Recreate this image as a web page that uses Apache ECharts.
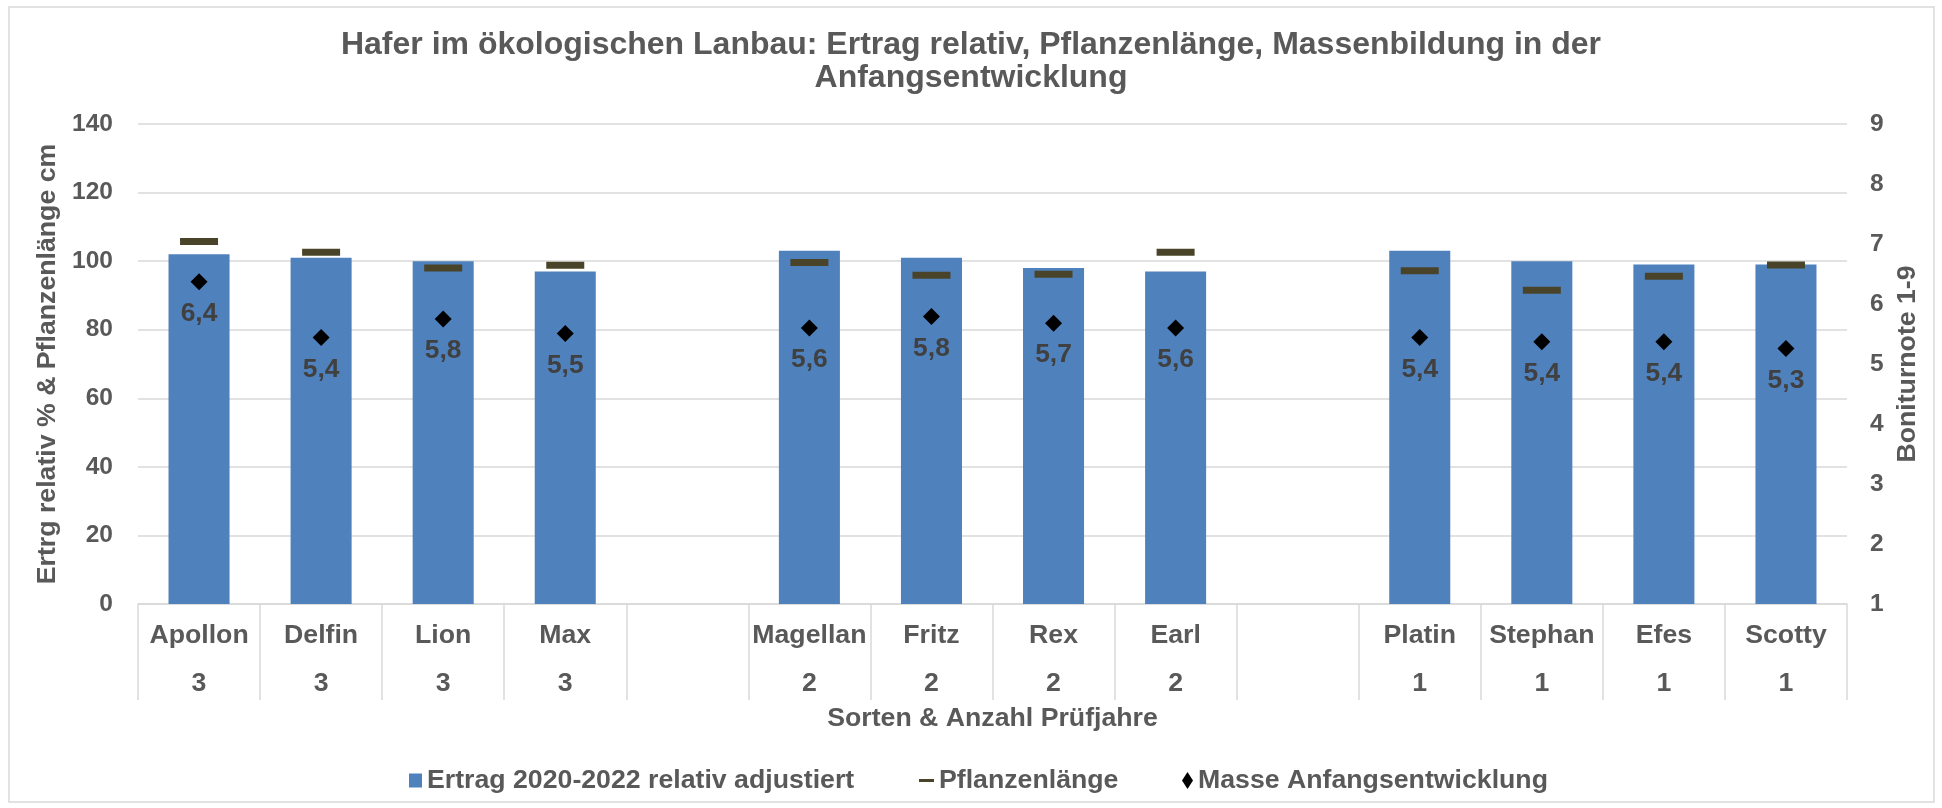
<!DOCTYPE html>
<html>
<head>
<meta charset="utf-8">
<script src="https://cdn.jsdelivr.net/npm/echarts@6/dist/echarts.min.js"></script>
<style>
html,body{margin:0;padding:0;background:#fff;}
#chart{width:1942px;height:808px;}
</style>
</head>
<body>
<div id="chart"></div>
<script>
// ---- data ----
var categories = ['Apollon','Delfin','Lion','Max',' ','Magellan','Fritz','Rex','Earl','  ','Platin','Stephan','Efes','Scotty'];
var years      = ['3','3','3','3','','2','2','2','2','','1','1','1','1'];
var ertrag     = [102, 101, 100, 97, '-', 103, 101, 98, 97, '-', 103, 100, 99, 99];
var pflanzen   = [105.7, 102.6, 98, 98.8, '-', 99.6, 95.9, 96.2, 102.6, '-', 97.2, 91.5, 95.6, 98.9];
var masse      = [6.37, 5.44, 5.75, 5.51, '-', 5.60, 5.79, 5.68, 5.60, '-', 5.44, 5.37, 5.37, 5.26];
var leftTicks  = [0, 140, 20];
var rightTicks = [1, 9, 1];

var FONT = "'Liberation Sans', Arial, sans-serif";
var GRAY = '#595959';

var chart = echarts.init(document.getElementById('chart'), null, {renderer: 'canvas'});
var option = {
  backgroundColor: '#ffffff',
  animation: false,
  textStyle: {fontFamily: FONT},
  title: {
    text: 'Hafer im ökologischen Lanbau: Ertrag relativ, Pflanzenlänge, Massenbildung in der\nAnfangsentwicklung',
    left: 'center',
    top: 24,
    textStyle: {fontFamily: FONT, fontSize: 32, fontWeight: 'bold', color: GRAY, lineHeight: 33}
  },
  graphic: [{
    type: 'rect',
    shape: {x: 9, y: 7, width: 1925, height: 795},
    style: {fill: 'none', stroke: '#d9d9d9', lineWidth: 1.5},
    silent: true
  }],
  legend: [
    {data: [{name: 'Ertrag 2020-2022 relativ adjustiert', icon: 'rect'}], left: 409, top: 767, padding: 0,
     itemWidth: 13, itemHeight: 14,
     textStyle: {fontFamily: FONT, fontSize: 26.7, fontWeight: 'bold', color: GRAY, lineHeight: 27}},
    {data: [{name: 'Pflanzenlänge', icon: 'rect'}], left: 919, top: 767, padding: 0,
     itemWidth: 15, itemHeight: 3,
     textStyle: {fontFamily: FONT, fontSize: 26.7, fontWeight: 'bold', color: GRAY, lineHeight: 27}},
    {data: [{name: 'Masse Anfangsentwicklung', icon: 'diamond'}], left: 1182, top: 767, padding: 0,
     itemWidth: 11, itemHeight: 17,
     textStyle: {fontFamily: FONT, fontSize: 26.7, fontWeight: 'bold', color: GRAY, lineHeight: 27}}
  ],
  grid: {left: 138, right: 95, top: 124, bottom: 204, containLabel: false},
  xAxis: {
    type: 'category',
    data: categories,
    boundaryGap: true,
    name: 'Sorten & Anzahl Prüfjahre',
    nameLocation: 'middle',
    nameGap: 101,
    nameTextStyle: {fontFamily: FONT, fontSize: 26.7, fontWeight: 'bold', color: GRAY},
    axisLine: {show: true, lineStyle: {color: '#d9d9d9', width: 1.5}},
    axisTick: {show: true, interval: 0, length: 96, alignWithLabel: false, lineStyle: {color: '#d9d9d9', width: 1.5}},
    axisLabel: {
      interval: 0,
      margin: 8,
      formatter: function (v, i) {
        if (!years[i]) return '';
        return '{n|' + categories[i] + '}\n{y|' + years[i] + '}';
      },
      rich: {
        n: {fontFamily: FONT, fontSize: 26.7, fontWeight: 'bold', color: GRAY, lineHeight: 48},
        y: {fontFamily: FONT, fontSize: 26.7, fontWeight: 'bold', color: GRAY, lineHeight: 48}
      }
    },
    splitLine: {show: false}
  },
  yAxis: [
    {
      type: 'value', min: leftTicks[0], max: leftTicks[1], interval: leftTicks[2],
      name: 'Ertrg relativ % & Pflanzenlänge cm',
      nameLocation: 'middle', nameRotate: 90, nameGap: 77,
      nameTextStyle: {fontFamily: FONT, fontSize: 26.7, fontWeight: 'bold', color: GRAY},
      axisLine: {show: false}, axisTick: {show: false},
      axisLabel: {margin: 25, fontFamily: FONT, fontSize: 24.5, fontWeight: 'bold', color: GRAY},
      splitLine: {show: true, lineStyle: {color: '#d9d9d9', width: 1.5}}
    },
    {
      type: 'value', min: rightTicks[0], max: rightTicks[1], interval: rightTicks[2],
      position: 'right',
      name: 'Boniturnote 1-9',
      nameLocation: 'middle', nameRotate: 90, nameGap: 46,
      nameTextStyle: {fontFamily: FONT, fontSize: 26.7, fontWeight: 'bold', color: GRAY},
      axisLine: {show: false}, axisTick: {show: false},
      axisLabel: {margin: 23, fontFamily: FONT, fontSize: 24.5, fontWeight: 'bold', color: GRAY},
      splitLine: {show: false}
    }
  ],
  series: [
    {
      name: 'Ertrag 2020-2022 relativ adjustiert',
      type: 'bar',
      data: ertrag,
      barWidth: '50%',
      itemStyle: {color: '#4f81bd'},
      z: 1
    },
    {
      name: 'Pflanzenlänge',
      type: 'scatter',
      data: pflanzen,
      symbol: 'rect',
      symbolSize: [38, 7],
      itemStyle: {color: '#494429', opacity: 1},
      z: 3
    },
    {
      name: 'Masse Anfangsentwicklung',
      type: 'scatter',
      yAxisIndex: 1,
      data: masse,
      symbol: 'diamond',
      symbolSize: [17, 17],
      itemStyle: {color: '#000000', opacity: 1},
      z: 4,
      label: {
        show: true,
        position: 'inside',
        offset: [0, 32],
        fontFamily: FONT, fontSize: 26.4, fontWeight: 'bold', color: '#404040',
        formatter: function (p) { return p.value.toFixed(1).replace('.', ','); }
      }
    }
  ]
};
chart.setOption(option);
</script>
</body>
</html>
